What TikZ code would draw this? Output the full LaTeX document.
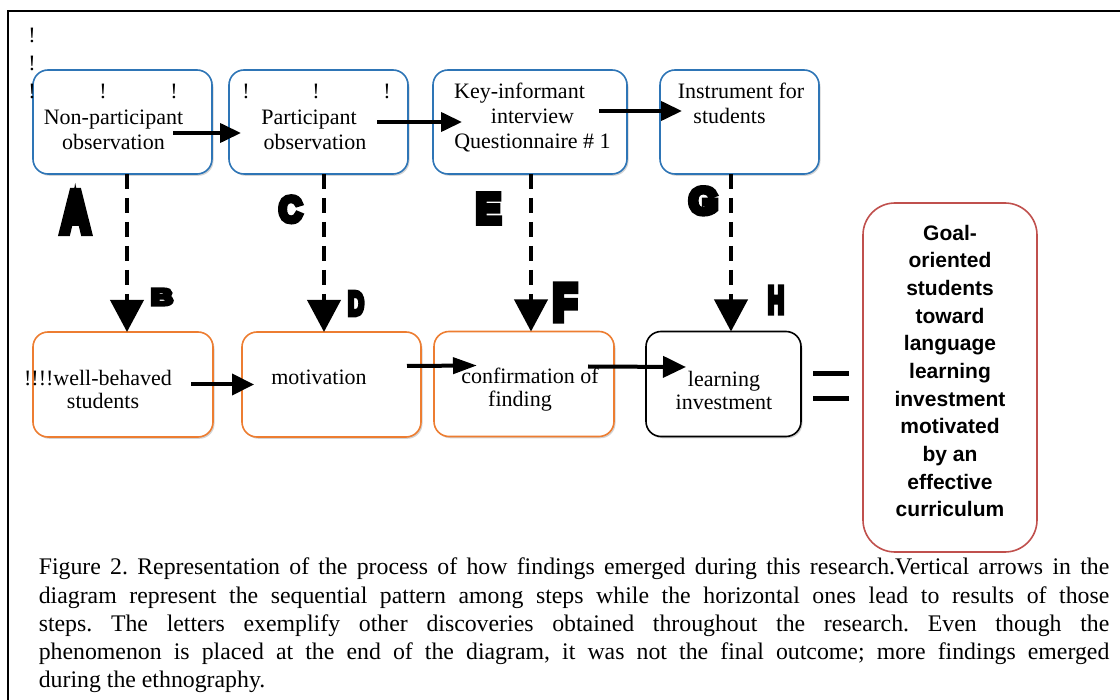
\documentclass[tikz,border=0pt]{standalone}
\usepackage{fontspec}
\setmainfont{Liberation Serif}
\newfontfamily\sansfam{Liberation Sans}
\newfontface\heavyfont{Liberation Sans Bold}[FakeBold=14]
\usetikzlibrary{arrows.meta,shadows}
\definecolor{boxblue}{RGB}{46,117,182}
\definecolor{boxorange}{RGB}{237,125,49}
\definecolor{boxred}{RGB}{192,80,77}
\newcommand{\bigletter}[3]{\resizebox{#1pt}{#2pt}{\heavyfont #3}}
\begin{document}
\begin{tikzpicture}[x=1pt,y=-1pt,
  basebox/.style={rounded corners=15pt, line width=1.6pt, fill=white, inner sep=0pt, outer sep=0pt,
    drop shadow={shadow xshift=1.5pt, shadow yshift=-1.8pt, opacity=0.35, fill=gray}},
  bluebox/.style={basebox, draw=boxblue},
  orangebox/.style={basebox, draw=boxorange},
  blackbox/.style={basebox, draw=black},
  redbox/.style={rounded corners=32pt, line width=1.6pt, draw=boxred, fill=white, inner sep=0pt, outer sep=0pt},
  boxtext/.style={font=\fontsize{22}{25}\selectfont, align=center, inner sep=0pt, anchor=base},
  lowtext/.style={font=\fontsize{22}{23}\selectfont, align=center, inner sep=0pt, anchor=base},
  bang/.style={font=\fontsize{22}{25}\selectfont, inner sep=0pt, anchor=base},
  letter/.style={inner sep=0pt, outer sep=0pt, anchor=south west},
  harrow/.style={line width=4pt, -{Triangle[length=21pt,width=19pt]}},
  dasharrow/.style={line width=4pt, dash pattern=on 15pt off 9pt, -{Triangle[length=32pt,width=33pt]}}
]
\useasboundingbox (0,0) rectangle (1120,700);
\draw[line width=2pt] (8,700) -- (8,11) -- (1120,11);

% top row
\node[bluebox, minimum width=179pt, minimum height=104pt] (t1) at (122.5,122) {};
\node[bluebox, minimum width=179pt, minimum height=104pt] (t2) at (318.5,122) {};
\node[bluebox, minimum width=194pt, minimum height=104pt] (t3) at (530,122) {};
\node[bluebox, minimum width=159pt, minimum height=104pt] (t4) at (739.5,122) {};

% bottom row
\node[orangebox, minimum width=180pt, minimum height=105pt] (b1) at (123,384.5) {};
\node[orangebox, minimum width=179pt, minimum height=105pt] (b2) at (331.5,384.5) {};
\node[orangebox, minimum width=180pt, minimum height=105pt] (b3) at (524,384) {};
\node[blackbox, minimum width=155pt, minimum height=105pt] (b4) at (723.5,384) {};

% result
\node[redbox, minimum width=174pt, minimum height=349pt] (res) at (950,377.5) {};

% texts (anchor base = baseline of the last line)
\node[bang] (e1) at (32,43) {!};
\node[bang] (e2) at (32,71) {!};
\node[bang] (e3) at (32,99) {!};
\node[bang] (e4) at (103,99) {!};
\node[bang] (e5) at (174,99) {!};
\node[bang] (e6) at (246,99) {!};
\node[bang] (e7) at (316,99) {!};
\node[bang] (e8) at (387,99) {!};

\node[boxtext] (t1txt) at (113.5,150) {Non-participant\\observation};
\node[boxtext] (t2txt) at (315,150) {Participant\hspace*{12pt}\\observation};
\node[boxtext] (t3txt) at (532.5,149) {Key-informant\hspace*{26pt}\\interview\hspace*{26pt}\\Questionnaire \# 1};
\node[boxtext] (t4txt) at (741,124) {Instrument for\\students\hspace*{23pt}};

\node[lowtext] (b1txt) at (103,409) {!!!!well-behaved\hspace*{10pt}\\students};
\node[lowtext] (b2txt) at (319,385) {motivation};
\node[lowtext] (b3txt) at (530,407) {confirmation of\\finding\hspace*{20pt}};
\node[lowtext] (b4txt) at (724,410) {learning\\investment};

\node[font=\sansfam\bfseries\fontsize{21}{27.7}\selectfont, align=center, inner sep=0pt, anchor=base] (restxt) at (950,517)
  {Goal-\\oriented\\students\\toward\\language\\learning\\investment\\motivated\\by an\\effective\\curriculum};

% equals sign
\fill (813,371.5) rectangle (849,376.5);
\fill (813,396.5) rectangle (849,401.5);

% letters
\node[letter] (lA) at (61,232) {\bigletter{29}{40}{A}};
\node[letter] (lB) at (151,305) {\bigletter{22}{16}{B}};
\node[letter] (lC) at (279,222) {\bigletter{23}{25}{C}};
\node[letter] (lD) at (348,315) {\bigletter{16}{23}{D}};
\node[letter] (lE) at (476,223) {\bigletter{25}{29}{E}};
\node[letter] (lF) at (553,320) {\bigletter{24}{35}{F}};
\node[letter] (lG) at (689,214) {\bigletter{29}{26}{G}};
\node[letter] (lH) at (768,313) {\bigletter{16}{26}{H}};

% horizontal arrows, top
\draw[harrow] ([xshift=-39pt,yshift=-11pt]t1.east) -- ([xshift=12pt,yshift=-11pt]t2.west);
\draw[harrow] ([xshift=-31pt]t2.east) -- ([xshift=29pt]t3.west);
\draw[harrow] ([xshift=-28pt,yshift=11pt]t3.east) -- ([xshift=22pt,yshift=11pt]t4.west);

% horizontal arrows, bottom
\draw[harrow,-{Triangle[length=22pt,width=21pt]}] ([xshift=-22pt]b1.east) -- ([xshift=12pt]b2.west);
\draw[harrow,-{Triangle[length=24pt,width=16pt]}] ([xshift=-14pt,yshift=18.5pt]b2.east) -- ([xshift=43pt,yshift=18.5pt]b3.west);
\draw[harrow,-{Triangle[length=23pt,width=21pt]}] ([xshift=-26pt,yshift=17.5pt]b3.east) -- ([xshift=40pt,yshift=17pt]b4.west);

% vertical dashed arrows
\draw[dasharrow] ([xshift=4.5pt]t1.south) -- ([xshift=4pt]b1.north);
\draw[dasharrow] ([xshift=5.5pt]t2.south) -- ([xshift=-7.5pt]b2.north);
\draw[dasharrow] ([xshift=1pt]t3.south) -- ([xshift=7pt]b3.north);
\draw[dasharrow] ([xshift=-8.5pt]t4.south) -- ([xshift=7.5pt]b4.north);

% caption
\node[anchor=north west, text width=1070.5pt, inner sep=0pt, align=justify,
  font=\fontsize{23.8}{28.25}\selectfont] (cap) at (38.6,558)
  {\frenchspacing\hyphenpenalty=10000 Figure 2. Representation of the process of how findings emerged during this research.Vertical arrows in the\linebreak diagram represent the sequential pattern among steps while the horizontal ones lead to results of those\linebreak steps. The letters exemplify other discoveries obtained throughout the research. Even though the\linebreak phenomenon is placed at the end of the diagram, it was not the final outcome; more findings emerged\linebreak during the ethnography.};
\end{tikzpicture}
\end{document}
